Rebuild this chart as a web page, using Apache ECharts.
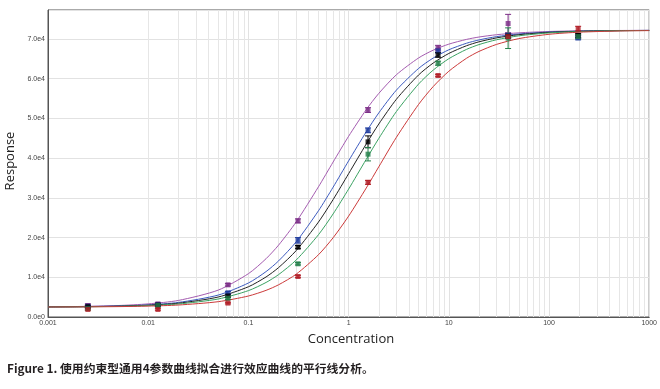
<!DOCTYPE html>
<html>
<head>
<meta charset="utf-8">
<script src="https://cdn.jsdelivr.net/npm/echarts@6/dist/echarts.min.js"></script>
<style>
html,body{margin:0;padding:0;background:#fff;}
#chart{width:660px;height:389px;}
</style>
</head>
<body>
<div id="chart"></div>
<script>
// ---- data ----
const concentrations = [0.0025, 0.0125, 0.0625, 0.3125, 1.5625, 7.8125, 39.0625, 195.3125];

const purpleY   = [2900, 3300, 8100, 24200, 52100, 67700, 73900, 70600];
const purpleErr = [400, 300, 300, 500, 600, 700, 2300, 400];
const blueY     = [2700, 3100, 6100, 19300, 47000, 67000, 70800, 70300];
const blueErr   = [300, 300, 300, 700, 600, 500, 600, 500];
const blackY    = [2600, 3000, 5300, 17600, 44100, 66000, 70700, 70900];
const blackErr  = [300, 300, 300, 400, 1500, 600, 500, 500];
const greenY    = [2100, 2900, 4700, 13400, 41000, 63900, 70200, 70600];
const greenErr  = [300, 300, 300, 300, 1700, 500, 2600, 500];
const redY      = [1900, 1900, 3500, 10200, 33900, 60800, 70600, 72600];
const redErr    = [200, 200, 200, 300, 500, 300, 300, 600];

// fitted curves, read at these concentrations
const curveX = [0.001, 0.002, 0.005, 0.01, 0.02, 0.05, 0.1, 0.15, 0.2, 0.3, 0.5, 0.7, 1, 1.5, 2, 3, 5, 7, 10, 15, 20, 30, 50, 100, 200, 500, 1000];
const purpleCurve = [2570, 2645, 2885, 3304, 4167, 6773, 10906, 14677, 18092, 23947, 32778, 39009, 45505, 52210, 56295, 60999, 65237, 67196, 68701, 69893, 70492, 71078, 71548, 71888, 72051, 72144, 72173];
const blueCurve   = [2548, 2601, 2768, 3061, 3667, 5524, 8559, 11433, 14121, 18933, 26735, 32681, 39309, 46631, 51388, 57131, 62597, 65218, 67280, 68925, 69761, 70597, 71266, 71752, 71985, 72119, 72162];
const blackCurve  = [2540, 2584, 2723, 2966, 3472, 5032, 7609, 10083, 12439, 16726, 23898, 29558, 36081, 43567, 48586, 54831, 60964, 63961, 66359, 68297, 69287, 70283, 71078, 71661, 71942, 72103, 72154];
const greenCurve  = [2532, 2567, 2678, 2873, 3279, 4537, 6641, 8696, 10672, 14349, 20713, 25947, 32206, 39713, 44961, 51743, 58678, 62184, 65035, 67377, 68590, 69816, 70800, 71527, 71877, 72079, 72142];
const redCurve    = [2521, 2544, 2617, 2746, 3015, 3856, 5285, 6708, 8109, 10787, 15673, 19946, 25403, 32478, 37817, 45247, 53548, 58044, 61877, 65139, 66868, 68645, 70099, 71183, 71712, 72016, 72112];

const xTickLabels = ['0.001', '0.01', '0.1', '1', '10', '100', '1000'];
const yTickLabels = ['0.0e0', '1.0e4', '2.0e4', '3.0e4', '4.0e4', '5.0e4', '6.0e4', '7.0e4'];
const minorGridMultipliers = [2, 3, 4, 5, 6, 7, 8, 9];
const decades = [0.001, 0.01, 0.1, 1, 10, 100];

// ---- build ----
const groups = [
  {y: purpleY, e: purpleErr, c: purpleCurve, mark: '#7b2c86', line: '#a45bb0'},
  {y: blueY,   e: blueErr,   c: blueCurve,   mark: '#1f3c9e', line: '#3d5bbf'},
  {y: blackY,  e: blackErr,  c: blackCurve,  mark: '#000000', line: '#222222'},
  {y: greenY,  e: greenErr,  c: greenCurve,  mark: '#23804a', line: '#3aa262'},
  {y: redY,    e: redErr,    c: redCurve,    mark: '#b01c24', line: '#cc3a3a'}
];

const minorLines = [];
decades.forEach(d => minorGridMultipliers.forEach(m => minorLines.push({xAxis: d * m})));

const series = [{
  type: 'line', data: [], z: 1, silent: true,
  markLine: {
    z: 1, silent: true, symbol: ['none', 'none'], label: {show: false},
    lineStyle: {color: '#e6e6e6', type: 'solid', width: 1},
    emphasis: {disabled: true},
    data: minorLines, animation: false
  }
}];

groups.forEach(g => {
  series.push({
    type: 'line', z: 3, symbol: 'none', smooth: 0.25,
    lineStyle: {color: g.line, width: 1},
    data: curveX.map((x, i) => [x, g.c[i]])
  });
});
groups.forEach(g => {
  series.push({
    type: 'custom', z: 4,
    data: concentrations.map((x, i) => [x, g.y[i] - g.e[i], g.y[i] + g.e[i]]),
    renderItem: function (params, api) {
      const lo = api.coord([api.value(0), api.value(1)]);
      const hi = api.coord([api.value(0), api.value(2)]);
      const w = 3;
      const st = {stroke: g.mark, lineWidth: 1};
      return {type: 'group', children: [
        {type: 'line', shape: {x1: lo[0], y1: lo[1], x2: hi[0], y2: hi[1]}, style: st},
        {type: 'line', shape: {x1: lo[0] - w, y1: lo[1], x2: lo[0] + w, y2: lo[1]}, style: st},
        {type: 'line', shape: {x1: hi[0] - w, y1: hi[1], x2: hi[0] + w, y2: hi[1]}, style: st}
      ]};
    }
  });
  series.push({
    type: 'scatter', z: 5, symbol: 'rect', symbolSize: 5,
    itemStyle: {color: g.mark},
    data: concentrations.map((x, i) => [x, g.y[i]])
  });
});

const chart = echarts.init(document.getElementById('chart'), null, {renderer: 'canvas'});
chart.setOption({
  animation: false,
  backgroundColor: '#fff',
  grid: {left: 48, right: 8, top: 10, bottom: 72, show: true, borderColor: '#555', borderWidth: 1},
  xAxis: {
    type: 'log', logBase: 10, min: 0.001, max: 1000,
    axisLine: {lineStyle: {color: '#555'}},
    axisTick: {show: false},
    splitLine: {show: true, lineStyle: {color: '#e2e2e2'}},
    axisLabel: {
      fontSize: 7, color: '#444', margin: 3, fontFamily: 'Liberation Sans',
      formatter: v => xTickLabels[Math.round(Math.log10(v)) + 3] || ''
    }
  },
  yAxis: {
    type: 'value', min: 0, max: 77300, interval: 10000,
    axisLine: {show: true, lineStyle: {color: '#555'}},
    axisTick: {show: false},
    splitLine: {show: true, lineStyle: {color: '#e2e2e2'}},
    axisLabel: {
      fontSize: 7, color: '#444', margin: 3, fontFamily: 'Liberation Sans',
      formatter: v => (v % 10000 === 0 ? (yTickLabels[v / 10000] || '') : '')
    }
  },
  graphic: [
    {type: 'text', x: 10, y: 161, rotation: Math.PI / 2,
     style: {text: 'Response', fontSize: 13, fontFamily: 'Open Sans', fill: '#222', align: 'center', verticalAlign: 'middle'}},
    {type: 'text', x: 351, y: 339,
     style: {text: 'Concentration', fontSize: 13, fontFamily: 'Open Sans', fill: '#222', align: 'center', verticalAlign: 'middle'}},
    {type: 'text', x: 7, y: 369,
     style: {text: 'Figure 1. 使用约束型通用4参数曲线拟合进行效应曲线的平行线分析。', fontSize: 11.8, fontWeight: 'bold', fontFamily: 'Noto Sans CJK SC', fill: '#231f20', align: 'left', verticalAlign: 'middle'}}
  ],
  series: series
});
</script>
</body>
</html>
